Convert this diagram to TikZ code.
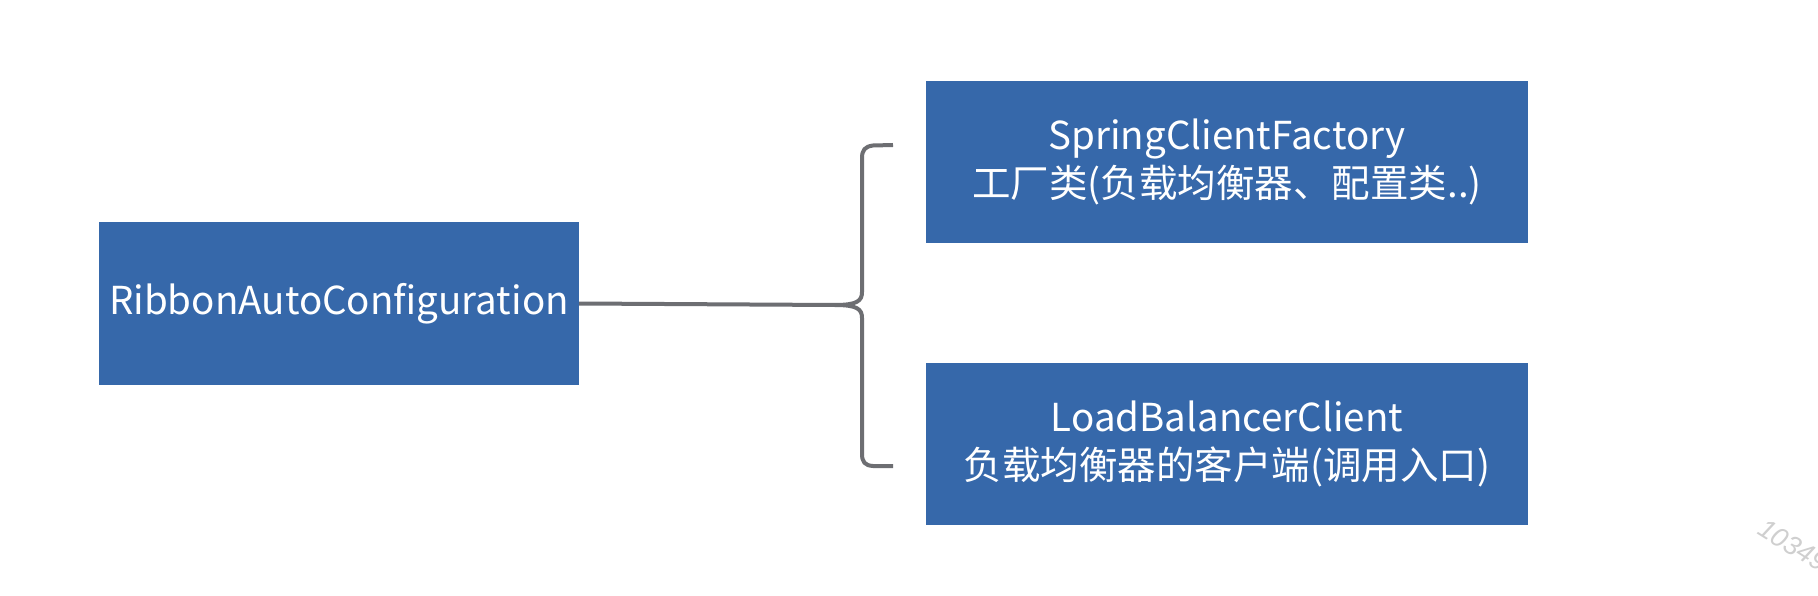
\documentclass[tikz,border=0pt]{standalone}
\usepackage{fontspec}
\setmainfont{Noto Sans CJK SC}
\newfontfamily\wmfont{Liberation Sans}
\definecolor{boxblue}{HTML}{3668AA}
\definecolor{linegray}{HTML}{6D6E72}
\definecolor{wmgray}{HTML}{CFCFCF}
\begin{document}
\begin{tikzpicture}[x=1pt,y=-1pt,
  bluebox/.style={fill=boxblue, draw=none, text=white, inner sep=0pt,
    align=center, font=\fontsize{38.5}{48}\selectfont},
  conn/.style={draw=linegray, line width=4pt, line join=round}]
\useasboundingbox (0,0) rectangle (1818,596);
\fill[white] (0,0) rectangle (1818,596);
\clip (0,0) rectangle (1818,596);
\node[bluebox, minimum width=480pt, minimum height=163pt] (ribbon) at (339,303.5) {RibbonAutoConfiguration};
\node[bluebox, minimum width=602pt, minimum height=162pt] (factory) at (1227,162) {SpringClientFactory\\工厂类(负载均衡器、配置类..)};
\node[bluebox, minimum width=602pt, minimum height=162pt] (lbc) at (1227,444) {LoadBalancerClient\\负载均衡器的客户端(调用入口)};
\coordinate (cusp) at (835,305);
\coordinate (btop) at (893,145);
\coordinate (bbot) at (893,466);
\draw[conn] (ribbon.east) -- (cusp);
\draw[conn] (btop) -- (873,145.5) .. controls (865,146.5) and (862,150) .. (862,158)
  -- (862,292) .. controls (862,301) and (857,305) .. (cusp)
  .. controls (857,305) and (862,309) .. (862,318)
  -- (862,454) .. controls (862,462) and (865,465.5) .. (873,466) -- (bbot);
\node[text=wmgray, font=\wmfont\itshape\fontsize{27}{27}\selectfont, rotate=-32, anchor=base west, inner sep=0pt] (wm) at (1756,533) {10349};
\end{tikzpicture}
\end{document}
